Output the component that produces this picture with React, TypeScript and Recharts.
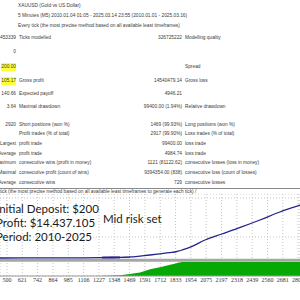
import React from 'react';
import { ComposedChart, Line, Area, XAxis, YAxis, CartesianGrid, ReferenceLine } from 'recharts';

// trade number on the x axis
const trades = [445, 800, 1100, 1250, 1275, 1300, 1350, 1394, 1473, 1500, 1552, 1631, 1710, 1789, 1828, 1852, 1884, 1950, 2066, 2200, 2350, 2500, 2658, 2817, 2920];
// balance in USD
const balance = [5000, 15000, 40000, 90000, 100000, 110000, 130000, 150000, 250000, 300000, 480000, 750000, 1050000, 1350000, 1500000, 1700000, 2000000, 2700000, 4500000, 6000000, 7700000, 9500000, 11500000, 13250000, 14437305];
// equity dips (only drawn where it differs)
const equity = [null, null, null, 90000, 100000, 110000, 130000, 150000, null, null, null, null, null, null, null, null, null, null, null, null, null, null, null, null, null];
// lots traded
const lots = [0, 0, 0.5, 0.5, 1, 2, 4, 6, 14, 18, 25, 48, 63, 80, 88, 95, 100, 100, 100, 100, 100, 100, 100, 100, 100];

const xTicks = [500, 621, 742, 864, 985, 1106, 1227, 1348, 1469, 1591, 1712, 1833, 1954, 2075, 2197, 2318, 2439, 2560, 2681, 2802];
const balanceGrid = [2000000, 5250000, 8500000, 11750000, 15000000];

const headerLines = [
  'XAUUSD (Gold vs US Dollar)',
  '5 Minutes (M5) 2010.01.04 01:05 - 2025.03.14 23:55 (2010.01.01 - 2025.03.16)',
  'Every tick (the most precise method based on all available least timeframes)',
];

type Row = { y: number; v1?: string; l1?: string; v2?: string; l2?: string; hl?: boolean };
const rows: Row[] = [
  { y: 38, v1: '453339', l1: 'Ticks modelled', v2: '326725222', l2: 'Modelling quality' },
  { y: 52, v1: '0' },
  { y: 67, v1: '200.00', hl: true, l2: 'Spread' },
  { y: 81, v1: '105.17', hl: true, l1: 'Gross profit', v2: '14540479.14', l2: 'Gross loss' },
  { y: 94, v1: '140.66', l1: 'Expected payoff', v2: '4946.21' },
  { y: 107, v1: '3.64', l1: 'Maximal drawdown', v2: '99400.00 (1.94%)', l2: 'Relative drawdown' },
  { y: 125, v1: '2920', l1: 'Short positions (won %)', v2: '1469 (99.93%)', l2: 'Long positions (won %)' },
  { y: 134, l1: 'Profit trades (% of total)', v2: '2917 (99.90%)', l2: 'Loss trades (% of total)' },
  { y: 144, v1: 'Largest', l1: 'profit trade', v2: '99400.00', l2: 'loss trade' },
  { y: 154, v1: 'Average', l1: 'profit trade', v2: '4984.74', l2: 'loss trade' },
  { y: 163, v1: 'Maximum', l1: 'consecutive wins (profit in money)', v2: '1121 (81122.62)', l2: 'consecutive losses (loss in money)' },
  { y: 173, v1: 'Maximal', l1: 'consecutive profit (count of wins)', v2: '9394354.00 (838)', l2: 'consecutive loss (count of losses)' },
  { y: 183, v1: 'Average', l1: 'consecutive wins', v2: '729', l2: 'consecutive losses' },
];

const notes = ['Initial Deposit: $200', 'Profit: $14.437.105', 'Period: 2010-2025'];
const setName = 'Mid risk set';

const data = trades.map((t, i) => ({ trade: t, balance: balance[i], equity: equity[i], lots: lots[i] }));

const small: React.CSSProperties = {
  position: 'absolute',
  fontFamily: '"Liberation Sans", Arial, sans-serif',
  fontSize: 4.8,
  lineHeight: '6px',
  color: '#3a3a3a',
  whiteSpace: 'nowrap',
};

const big: React.CSSProperties = {
  position: 'absolute',
  fontFamily: 'Lato, sans-serif',
  fontSize: 11.5,
  lineHeight: '14px',
  color: '#1a1a1a',
  whiteSpace: 'nowrap',
};

const App = () => {
  return (
    <div style={{ position: 'absolute', left: 0, top: 0, width: 300, height: 300, overflow: 'hidden', background: '#fff' }}>
      {headerLines.map((t, i) => (
        <div key={t} style={{ ...small, left: 18, top: 3 + i * 10 }}>{t}</div>
      ))}

      {rows.map((r) => (
        <React.Fragment key={r.y}>
          {r.v1 && (
            <div style={{ ...small, right: 284, top: r.y - 3, textAlign: 'right', background: r.hl ? '#ffff3a' : undefined, padding: '1px 0', marginTop: -1 }}>
              {r.v1}
            </div>
          )}
          {r.l1 && <div style={{ ...small, left: 19, top: r.y - 3 }}>{r.l1}</div>}
          {r.v2 && <div style={{ ...small, right: 118, top: r.y - 3, textAlign: 'right' }}>{r.v2}</div>}
          {r.l2 && <div style={{ ...small, left: 185, top: r.y - 3 }}>{r.l2}</div>}
        </React.Fragment>
      ))}

      <div style={{ position: 'absolute', left: 0, top: 188, width: 300, height: 1, background: '#8a8a8a' }} />
      <div style={{ ...small, left: -14, top: 189 }}>
        Every tick (the most precise method based on all available least timeframes to generate each tick) /
      </div>

      <div style={{ position: 'absolute', left: 0, top: 194 }}>
        <ComposedChart width={300} height={96} data={data} margin={{ top: 0, right: 0, bottom: 0, left: 0 }}>
          <CartesianGrid yAxisId="bal" stroke="#c4c4c4" strokeDasharray="1 2" />
          <XAxis
            dataKey="trade"
            type="number"
            domain={[445, 2817]}
            allowDataOverflow
            ticks={xTicks}
            interval={0}
            height={14}
            tickLine={false}
            tickSize={0}
            tickMargin={2}
            axisLine={{ stroke: '#9a9a9a' }}
            tick={{ fontSize: 6, fontFamily: '"Liberation Serif", serif', fill: '#333' }}
          />
          <YAxis yAxisId="bal" hide domain={[-4500000, 16000000]} ticks={balanceGrid} allowDataOverflow />
          <YAxis yAxisId="lot" hide domain={[0, 586]} allowDataOverflow />
          <ReferenceLine yAxisId="bal" y={-550000} stroke="#a6a6a6" strokeWidth={3} />
          <Area yAxisId="lot" dataKey="lots" type="linear" stroke="none" fill="#06a806" fillOpacity={1} isAnimationActive={false} />
          <Line yAxisId="bal" dataKey="equity" type="linear" stroke="#8e88bd" strokeWidth={3} dot={false} isAnimationActive={false} />
          <Line yAxisId="bal" dataKey="balance" type="monotone" stroke="#24248c" strokeWidth={1.3} dot={false} isAnimationActive={false} />
        </ComposedChart>
      </div>

      {notes.map((t, i) => (
        <div key={t} style={{ ...big, left: -4, top: 202 + i * 14 }}>
          {t}
        </div>
      ))}
      <div style={{ ...big, left: 103, top: 212 }}>{setName}</div>
    </div>
  );
};

export default App;
